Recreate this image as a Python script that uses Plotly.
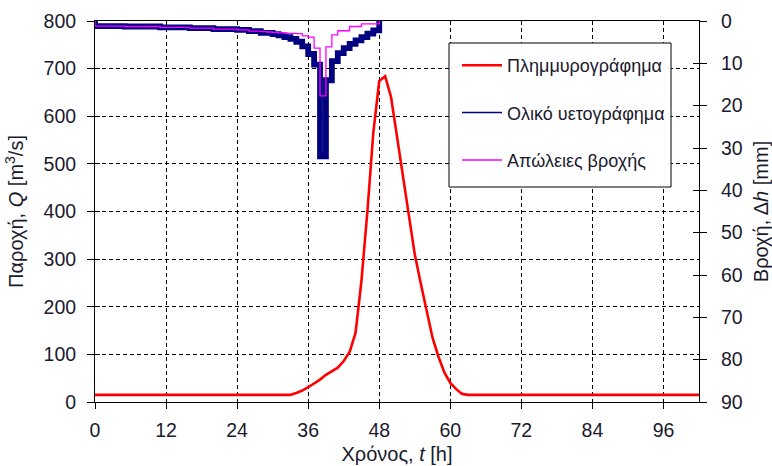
import plotly.graph_objects as go

# Hydrograph (time [h], discharge [m3/s])
hydro_t = [0, 33, 34, 35, 36, 37, 38, 39, 40, 41, 42, 43, 44, 45, 46, 47, 48, 49,
           50, 51, 52, 53, 54, 55, 56, 57, 58, 59, 60, 61, 62, 63, 102]
hydro_q = [15, 15, 19, 24, 31, 39, 47, 57, 65, 72, 86, 105, 145, 255, 400, 565, 674, 684,
           640, 560, 480, 390, 310, 250, 190, 135, 95, 62, 40, 27, 17, 15, 15]

# Hyetograph: hourly rainfall start times [h]
rain_t = list(range(0, 48))
total_rain = [1.2, 1.2, 1.2, 1.2, 1.2, 1.3, 1.3, 1.3, 1.3, 1.3, 1.3, 1.5,
              1.5, 1.5, 1.5, 1.5, 1.7, 1.7, 1.7, 1.7, 1.9, 1.9, 1.9, 1.9,
              2.1, 2.1, 2.4, 2.4, 2.8, 2.8, 3.1, 3.4, 3.8, 4.2, 4.9, 6.0,
              7.8, 10.3, 32.0, 14.0, 9.5, 7.6, 6.4, 5.4, 4.6, 3.8, 3.0, 2.2]
losses = [1.2, 1.2, 1.2, 1.2, 1.2, 1.3, 1.3, 1.3, 1.3, 1.3, 1.3, 1.5,
          1.5, 1.5, 1.5, 1.5, 1.7, 1.7, 1.7, 1.7, 1.9, 1.9, 1.9, 1.9,
          2.1, 2.1, 2.4, 2.4, 2.5, 2.6, 2.7, 2.8, 2.9, 2.9, 3.0, 3.5,
          3.8, 6.4, 17.7, 6.1, 3.3, 2.3, 2.3, 1.3, 1.3, 0.7, 0.7, 0.7]
rain_end = 48

x_ticks = [0, 12, 24, 36, 48, 60, 72, 84, 96]

names = ["Πλημμυρογράφημα", "Ολικό υετογράφημα", "Απώλειες βροχής"]
colors = ["#ff0000", "#000080", "#ff00ff"]

FONT = "Liberation Sans, Arial, sans-serif"
FS = 20
LFS = 18
TFS = 19.5
TXT = "#1a1a2e"

def step_xy(t, v, end):
    xs = [t[0]] + list(t) + [end]
    ys = [0] + list(v) + [0]
    return xs, ys

fig = go.Figure()

bx, by = step_xy(rain_t, total_rain, rain_end)
mx, my = step_xy(rain_t, losses, rain_end)

fig.add_trace(go.Scatter(x=hydro_t, y=hydro_q, mode="lines", name=names[0],
                         line=dict(color=colors[0], width=2.6), legendgroup="a"))
fig.add_trace(go.Scatter(x=bx, y=by, mode="lines", yaxis="y2", showlegend=False,
                         line=dict(color=colors[1], width=5.8, shape="hv")))
fig.add_trace(go.Scatter(x=mx, y=my, mode="lines", yaxis="y2", showlegend=False,
                         line=dict(color=colors[2], width=1.3, shape="hv")))
# legend-only entries with thin sample lines
fig.add_trace(go.Scatter(x=[None], y=[None], mode="lines", name=names[1], yaxis="y2",
                         line=dict(color=colors[1], width=1.5), legendgroup="b"))
fig.add_trace(go.Scatter(x=[None], y=[None], mode="lines", name=names[2], yaxis="y2",
                         line=dict(color=colors[2], width=1.5), legendgroup="c"))

# legend frame
L, R, T, B = 95, 699, 21, 402
W, H = R - L, B - T
def px(x): return (x - L) / W
def py(y): return (B - y) / H
fig.add_shape(type="rect", xref="paper", yref="paper",
              x0=px(449), x1=px(671), y0=py(187), y1=py(43),
              line=dict(color="black", width=1), fillcolor="white", layer="above")

grid = dict(showgrid=True, gridcolor="black", gridwidth=1, griddash="4px,3px")
fig.update_layout(
    width=772, height=466,
    margin=dict(l=L, r=772 - R, t=T, b=466 - B),
    paper_bgcolor="white", plot_bgcolor="white",
    font=dict(family=FONT, size=TFS, color=TXT),
    showlegend=True,
    legend=dict(x=px(457), y=py(47), xanchor="left", yanchor="top",
                bgcolor="rgba(0,0,0,0)", borderwidth=0,
                tracegroupgap=21, itemwidth=40,
                font=dict(family=FONT, size=LFS, color=TXT)),
    xaxis=dict(range=[0, 102], tickvals=x_ticks, ticks="outside", ticklen=6,
               tickcolor="black", showline=True, linecolor="black", linewidth=1,
               mirror=True, zeroline=False, ticklabelstandoff=5, automargin=False,
               title=dict(text="Χρόνος, <i>t</i> [h]", standoff=6,
                          font=dict(family=FONT, size=FS)),
               **grid),
    yaxis=dict(range=[0, 800], dtick=100, ticks="outside", ticklen=7,
               tickcolor="black", showline=True, linecolor="black", linewidth=1,
               zeroline=False, ticklabelstandoff=7, automargin=False,
               title=dict(text="Παροχή, <i>Q</i> [m<sup>3</sup>/s]", standoff=14,
                          font=dict(family=FONT, size=FS)),
               **grid),
    yaxis2=dict(range=[90, 0], dtick=10, overlaying="y", side="right",
                ticks="outside", ticklen=7, tickcolor="black",
                showline=True, linecolor="black", linewidth=1, automargin=False,
                showgrid=False, zeroline=False, ticklabelstandoff=10,
                title=dict(text="Βροχή, Δ<i>h</i> [mm]", standoff=14,
                           font=dict(family=FONT, size=FS))),
    # overlay axes providing the inner half of crossing ticks
    yaxis3=dict(range=[0, 800], dtick=100, overlaying="y", side="left",
                ticks="inside", ticklen=5, tickcolor="black", automargin=False,
                showticklabels=False, showgrid=False, zeroline=False, showline=False),
    yaxis4=dict(range=[90, 0], dtick=10, overlaying="y", side="right",
                ticks="inside", ticklen=6, tickcolor="black", automargin=False,
                showticklabels=False, showgrid=False, zeroline=False, showline=False),
)
# dummy traces to activate overlay axes
fig.add_trace(go.Scatter(x=[None], y=[None], yaxis="y3", showlegend=False))
fig.add_trace(go.Scatter(x=[None], y=[None], yaxis="y4", showlegend=False))

fig.write_html("out.html")
